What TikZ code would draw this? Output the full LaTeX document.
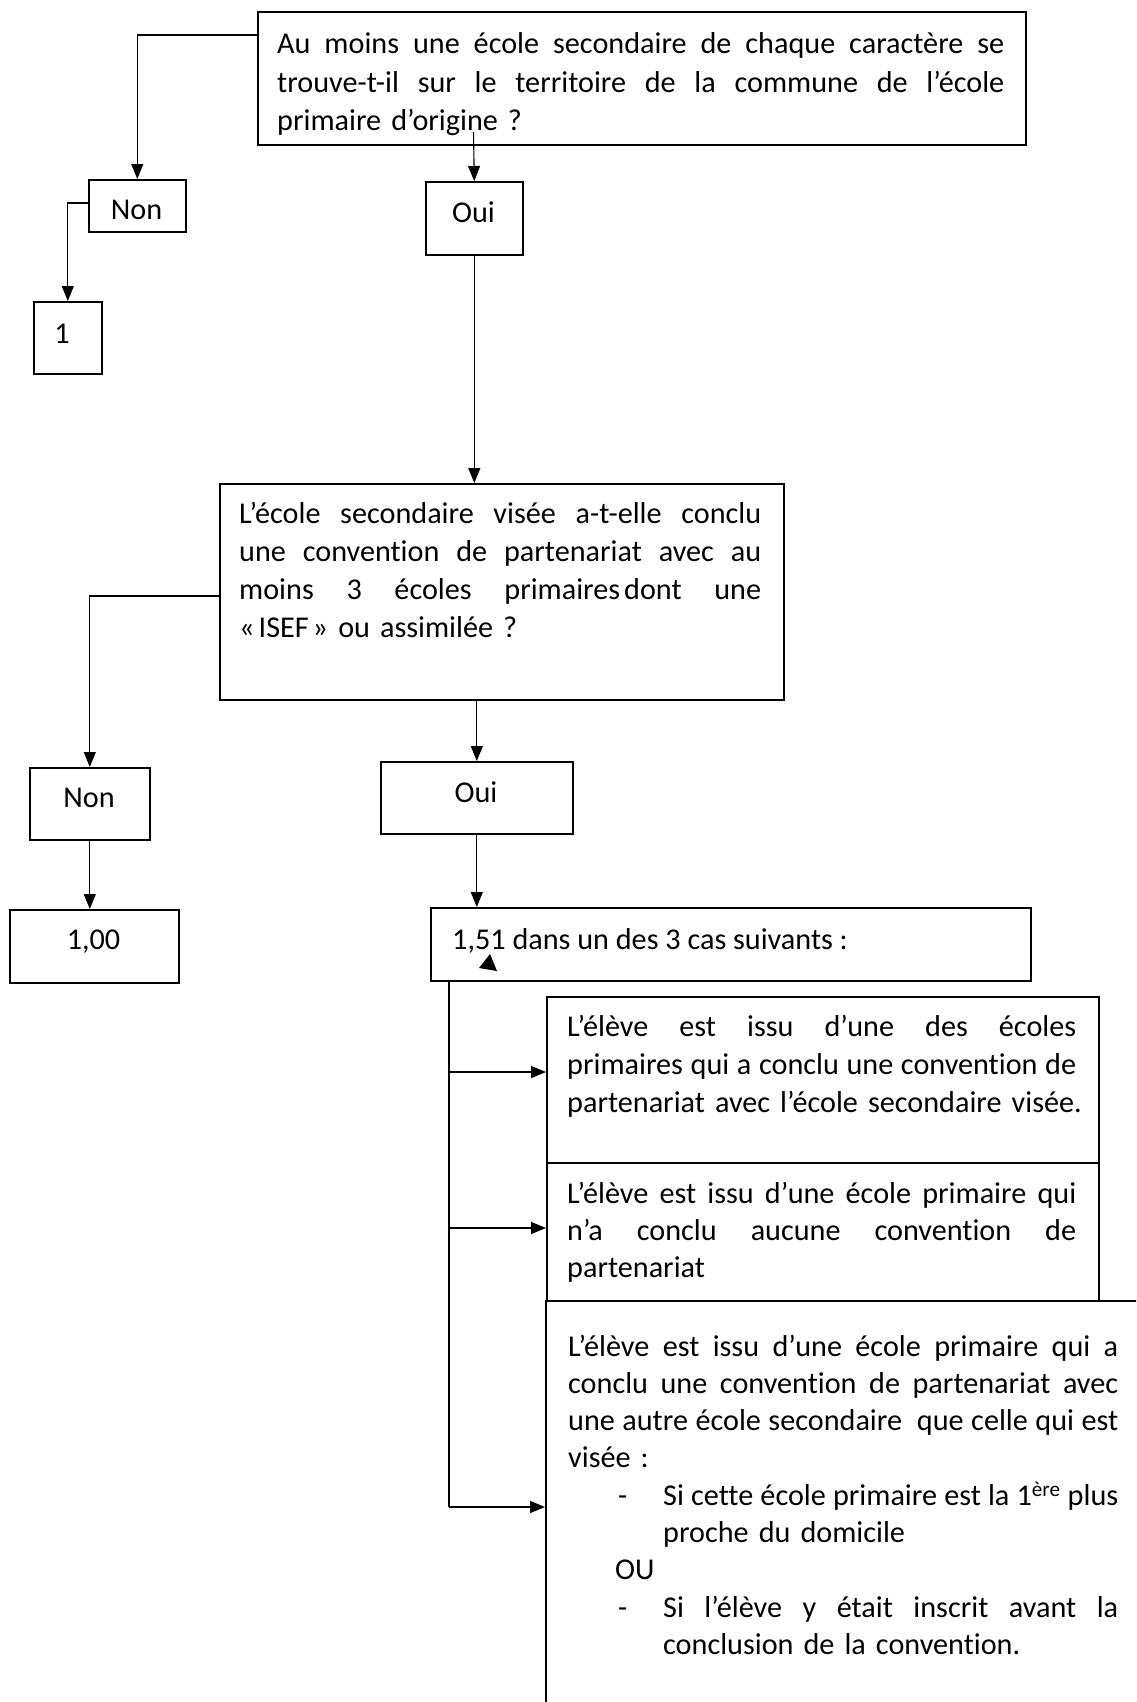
\documentclass[tikz,border=0pt]{standalone}
\usepackage{fontspec}
\setmainfont{Carlito}[Ligatures=NoCommon]
\usetikzlibrary{arrows.meta,calc}
\newcommand\diagfont[1][37.3]{\fontsize{30.2}{#1}\selectfont}
\newcommand\jlsep{\hskip 0.226em plus 1fill minus 0.08em\relax}
\ExplSyntaxOn
\tl_new:N \l_jl_tl
\NewDocumentCommand \jl { m m }
  {
    \mode_leave_vertical:
    \tl_set:Nn \l_jl_tl { #2 }
    \tl_replace_all:Nnn \l_jl_tl { ~ } { \jlsep }
    \hbox_to_wd:nn { #1 pt } { \l_jl_tl }
  }
\ExplSyntaxOff
\begin{document}
\begin{tikzpicture}[x=1pt,y=-1pt,
  box/.style={draw, line width=1.6pt, inner sep=0pt, anchor=north west},
  conn/.style={line width=1.1pt},
  arr/.style={conn, -{Triangle[length=15pt,width=12pt]}},
  txt/.style={inner sep=0pt, anchor=base west, align=left, font=\diagfont},
  wtxt/.style={txt, font={\diagfont[38.2]}},
  ctxt/.style={inner sep=0pt, anchor=base, font=\diagfont},
]
\useasboundingbox (0,0) rectangle (1136,1702);
\fill[white] (0,0) rectangle (1136,1702);
\clip (0,0) rectangle (1136,1702);

% boxes
\node[box, minimum width=768pt, minimum height=133pt] (q1) at (257,11) {};
\node[box, minimum width=97pt, minimum height=52pt] (n1) at (88,179) {};
\node[box, minimum width=68pt, minimum height=72pt] (b1) at (33,301) {};
\node[box, minimum width=97pt, minimum height=73pt] (o1) at (425,181) {};
\node[box, minimum width=564pt, minimum height=216pt] (q2) at (219,483) {};
\node[box, minimum width=120pt, minimum height=72pt] (n2) at (29,767) {};
\node[box, minimum width=192pt, minimum height=72pt] (o2) at (380,761) {};
\node[box, minimum width=169pt, minimum height=73pt] (v100) at (9,909) {};
\node[box, minimum width=600pt, minimum height=73pt] (b151) at (430,907) {};
\node[box, minimum width=552pt, minimum height=166pt] (c1) at (546,996) {};
\node[box, minimum width=552pt, minimum height=138pt] (c2) at (546,1162) {};
\node[box, minimum width=700pt, minimum height=520pt] (c3) at (545,1300) {};

% short texts
\node[ctxt] (n1t) at (136.5,219) {Non};
\node[ctxt] (b1t) at (62,343) {1};
\node[ctxt] (o1t) at (473.5,222.5) {Oui};
\node[ctxt] (n2t) at (89,807) {Non};
\node[ctxt] (o2t) at (476,802) {Oui};
\node[ctxt] (v100t) at (93.5,949.5) {1,00};
\node[txt] (b151t) at (452,949) {1,51 dans un des 3 cas suivants :};

% long texts
\node[wtxt, text width=800pt] (q1t) at (277,54) {\jl{727}{Au moins une école secondaire de chaque caractère se}\\
\jl{727}{trouve-t-il sur le territoire de la commune de l’école}\\
primaire d’origine ?};

\node[wtxt, text width=600pt] (q2t) at (239,523) {\jl{522}{L’école secondaire visée a-t-elle conclu}\\
\jl{522}{une convention de partenariat avec au}\\
\jl{522}{moins 3 écoles primaires{\kern4pt}dont une}\\
«\kern4pt ISEF\kern4pt» ou assimilée ?};

\node[wtxt, text width=580pt] (c1t) at (567,1036) {\jl{509}{L’élève est issu d’une des écoles}\\
\jl{509}{primaires qui a conclu une convention de}\\
partenariat avec l’école secondaire visée.};

\node[txt, text width=580pt] (c2t) at (567,1203) {\jl{509}{L’élève est issu d’une école primaire qui}\\
\jl{509}{n’a conclu aucune convention de}\\
partenariat};

\node[txt, text width=580pt] (c3t) at (568,1356) {\jl{550}{L’élève est issu d’une école primaire qui a}\\
\jl{550}{conclu une convention de partenariat avec}\\
\jl{550}{une autre école secondaire \hspace{0pt} que celle qui est}\\
visée :\\
\hspace*{50pt}\makebox[45pt][l]{-}\jl{455}{Si cette école primaire est la 1\textsuperscript{ère} plus}\\
\hspace*{95pt}proche du domicile\\
\hspace*{47pt}OU\\
\hspace*{50pt}\makebox[45pt][l]{-}\jl{455}{Si l’élève y était inscrit avant la}\\
\hspace*{95pt}conclusion de la convention.};

% connectors
\draw[arr] (q1.north west |- 0,35) -| (n1.north);
\draw[arr] (n1.north west |- 0,203) -| (b1.north);
\coordinate (q1o) at (473.5,132);
\draw[arr] (q1o) -- (o1.north);
\draw[arr] (o1.south) -- (o1.south |- q2.north);
\draw[arr] (q2.north west |- 0,596) -| (n2.north);
\draw[arr] (o2.north |- q2.south) -- (o2.north);
\draw[arr] (n2.south) -- (n2.south |- v100.north);
\draw[arr] (o2.south) -- (o2.south |- b151.north);

\coordinate (t0) at (b151.south -| 449,0);
\coordinate (t1) at (449,1072);
\coordinate (t2) at (449,1228);
\coordinate (t3) at (449,1507);
\draw[conn] (t0) -- (t3);
\draw[arr] (t1) -- (c1.west |- t1);
\draw[arr] (t2) -- (c2.west |- t2);
\draw[arr] (t3) -- (c3.west |- t3);

% stray arrowhead
\fill (479,968) -- (490,954) -- (497,971) -- cycle;
\end{tikzpicture}
\end{document}
